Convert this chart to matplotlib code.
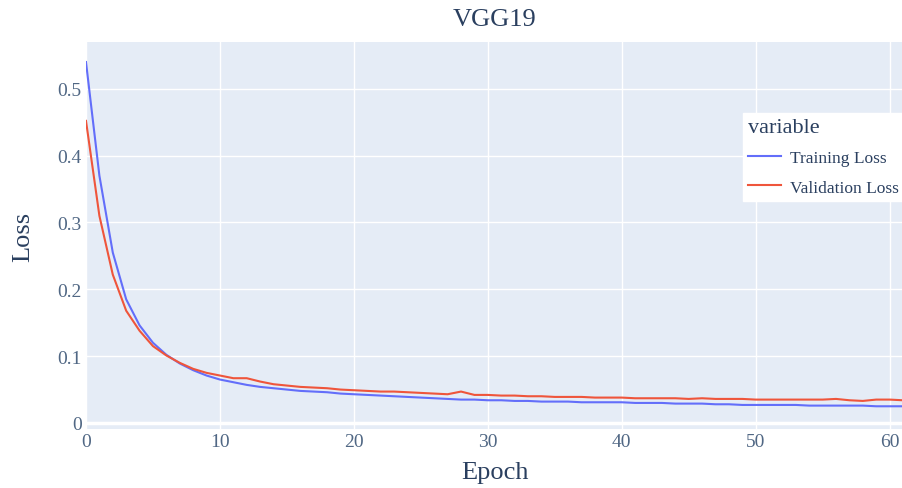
import numpy as np
import matplotlib.pyplot as plt

epochs = list(range(0, 62))
train_loss = [0.540, 0.370, 0.255, 0.185, 0.146, 0.120, 0.102, 0.089, 0.079, 0.071,
              0.065, 0.061, 0.057, 0.054, 0.052, 0.050, 0.048, 0.047, 0.046, 0.044,
              0.043, 0.042, 0.041, 0.040, 0.039, 0.038, 0.037, 0.036, 0.035, 0.035,
              0.034, 0.034, 0.033, 0.033, 0.032, 0.032, 0.032, 0.031, 0.031, 0.031,
              0.031, 0.030, 0.030, 0.030, 0.029, 0.029, 0.029, 0.028, 0.028, 0.027,
              0.027, 0.027, 0.027, 0.027, 0.026, 0.026, 0.026, 0.026, 0.026, 0.025,
              0.025, 0.025]
val_loss = [0.452, 0.310, 0.222, 0.168, 0.138, 0.115, 0.101, 0.090, 0.081, 0.075,
            0.071, 0.067, 0.067, 0.062, 0.058, 0.056, 0.054, 0.053, 0.052, 0.050,
            0.049, 0.048, 0.047, 0.047, 0.046, 0.045, 0.044, 0.043, 0.047, 0.042,
            0.042, 0.041, 0.041, 0.040, 0.040, 0.039, 0.039, 0.039, 0.038, 0.038,
            0.038, 0.037, 0.037, 0.037, 0.037, 0.036, 0.037, 0.036, 0.036, 0.036,
            0.035, 0.035, 0.035, 0.035, 0.035, 0.035, 0.036, 0.034, 0.033, 0.035,
            0.035, 0.034]
x_ticks = [0, 10, 20, 30, 40, 50, 60]
y_ticks = [0, 0.1, 0.2, 0.3, 0.4, 0.5]

plt.rcParams['font.family'] = ['Liberation Serif', 'DejaVu Serif']
txt = '#2a3f5f'
tick_col = '#506784'

fig = plt.figure(figsize=(9.03, 4.89), dpi=100)
ax = fig.add_axes([86/903, (489-430)/489, (903-86)/903, (430-43)/489])
ax.set_facecolor('#E5ECF6')
for s in ax.spines.values():
    s.set_visible(False)

ax.plot(epochs, train_loss, color='#636EFA', lw=1.5, label='Training Loss')
ax.plot(epochs, val_loss, color='#EF553B', lw=1.5, label='Validation Loss')

ax.set_xlim(0, 61)
ax.set_ylim(-0.009, 0.57)
ax.set_xticks(x_ticks)
ax.set_yticks(y_ticks)
ax.set_yticklabels(['0', '0.1', '0.2', '0.3', '0.4', '0.5'])
ax.grid(True, color='white', lw=1)
ax.axhline(0, color='white', lw=2.5, zorder=1)
ax.set_axisbelow(True)
ax.tick_params(length=0, labelsize=14, colors=tick_col, pad=3)

ax.set_title('VGG19', fontsize=19, color=txt, pad=12)
ax.set_xlabel('Epoch', fontsize=19, color=txt, labelpad=8)
ax.set_ylabel('Loss', fontsize=19, color=txt, labelpad=17)

leg = ax.legend(loc='upper left', bbox_to_anchor=((743-86)/817, (430-114)/387),
                frameon=True, title='variable', fontsize=12.5, title_fontsize=16,
                handlelength=1.9, handletextpad=0.5, borderaxespad=0, fancybox=False,
                labelcolor=txt, borderpad=0.3, labelspacing=0.75, framealpha=1)
leg.get_frame().set_facecolor('white')
leg.get_frame().set_edgecolor('white')
leg.get_title().set_color(txt)
leg._legend_box.align = 'left'

fig.savefig('out.png', dpi=100)
